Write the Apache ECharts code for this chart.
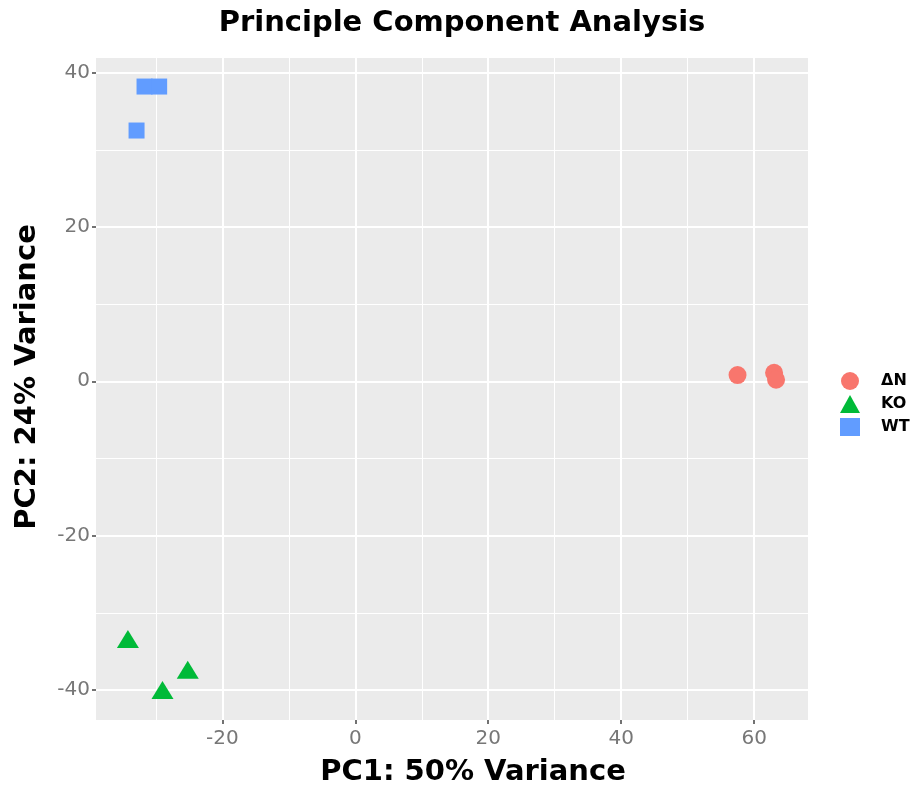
<!DOCTYPE html>
<html><head><meta charset="utf-8">
<script src="https://cdn.jsdelivr.net/npm/echarts@6/dist/echarts.min.js"></script>
<style>html,body{margin:0;padding:0;background:#fff}#c{width:921px;height:790px}</style>
</head><body><div id="c"></div>
<script>
const groups = ['ΔN', 'KO', 'WT'];
const colors = ['#F8766D', '#00BA38', '#619CFF'];
const dnPoints = [[57.5, 0.8], [63.0, 1.1], [63.3, 0.2]];
const koPoints = [[-34.2, -33.4], [-25.2, -37.4], [-29.0, -40.0]];
const wtPoints = [[-31.7, 38.2], [-29.5, 38.2], [-32.9, 32.5]];
const xMajor = [-20, 0, 20, 40, 60];
const xMinor = [-30, -10, 10, 30, 50];
const yMajor = [-40, -20, 0, 20, 40];
const yMinor = [-30, -10, 10, 30];
const xRange = [-39.0, 68.1];
const yRange = [-43.9, 41.9];
const titleText = 'Principle Component Analysis';
const xTitle = 'PC1: 50% Variance';
const yTitle = 'PC2: 24% Variance';

const chart = echarts.init(document.getElementById('c'), null, {renderer: 'canvas'});
const font = '"DejaVu Sans", Arial, sans-serif';
const baseAxis = (range) => ({
  type: 'value', min: range[0], max: range[1],
  axisLine: {show: false, onZero: false},
});
chart.setOption({
  animation: false,
  backgroundColor: '#fff',
  title: {text: titleText, left: 457, top: 4, textAlign: 'center',
    textStyle: {fontFamily: font, fontSize: 29, fontWeight: 'bold', color: '#000'}},
  graphic: [
    {type: 'text', x: 473, y: 772, style: {text: xTitle, fontFamily: font, fontSize: 29, fontWeight: 'bold', fill: '#000', align: 'center', verticalAlign: 'middle'}},
    {type: 'text', x: 27, y: 377, rotation: Math.PI / 2, style: {text: yTitle, fontFamily: font, fontSize: 29, fontWeight: 'bold', fill: '#000', align: 'center', verticalAlign: 'middle'}}
  ],
  grid: {left: 96, right: 113, top: 58, bottom: 70, show: true, backgroundColor: '#EBEBEB', borderWidth: 0, outerBoundsMode: 'none'},
  legend: {
    orient: 'vertical', left: 835, top: 367, itemGap: 5, itemWidth: 20, itemHeight: 18,
    textStyle: {fontFamily: font, fontSize: 16, fontWeight: 'bold', color: '#000', padding: [0, 0, 0, 16]},
    data: [{name: groups[0], icon: 'circle'}, {name: groups[1], icon: 'triangle'}, {name: groups[2], icon: 'rect'}]
  },
  xAxis: [
    Object.assign(baseAxis(xRange), {
      axisTick: {show: true, length: 4, lineStyle: {color: '#444', width: 1.5}, customValues: xMajor},
      axisLabel: {customValues: xMajor, fontFamily: font, fontSize: 20, color: '#777', margin: 9},
      splitLine: {show: true, lineStyle: {color: '#fff', width: 2}}
    }),
    Object.assign(baseAxis(xRange), {
      axisTick: {show: false, customValues: xMinor}, axisLabel: {show: false, customValues: xMinor},
      splitLine: {show: true, lineStyle: {color: '#fff', width: 1}}
    })
  ],
  yAxis: [
    Object.assign(baseAxis(yRange), {
      axisTick: {show: true, length: 4, lineStyle: {color: '#444', width: 1.5}, customValues: yMajor},
      axisLabel: {customValues: yMajor, fontFamily: font, fontSize: 20, color: '#777', margin: 6},
      splitLine: {show: true, lineStyle: {color: '#fff', width: 2}}
    }),
    Object.assign(baseAxis(yRange), {
      axisTick: {show: false, customValues: yMinor}, axisLabel: {show: false, customValues: yMinor},
      splitLine: {show: true, lineStyle: {color: '#fff', width: 1}}
    })
  ],
  series: [
    {name: groups[0], type: 'scatter', symbol: 'circle', symbolSize: 18, data: dnPoints, itemStyle: {color: colors[0], opacity: 1}},
    {name: groups[1], type: 'scatter', symbol: 'triangle', symbolSize: [22, 18], data: koPoints, itemStyle: {color: colors[1], opacity: 1}},
    {name: groups[2], type: 'scatter', symbol: 'rect', symbolSize: 16, data: wtPoints, itemStyle: {color: colors[2], opacity: 1}}
  ]
});
</script></body></html>
